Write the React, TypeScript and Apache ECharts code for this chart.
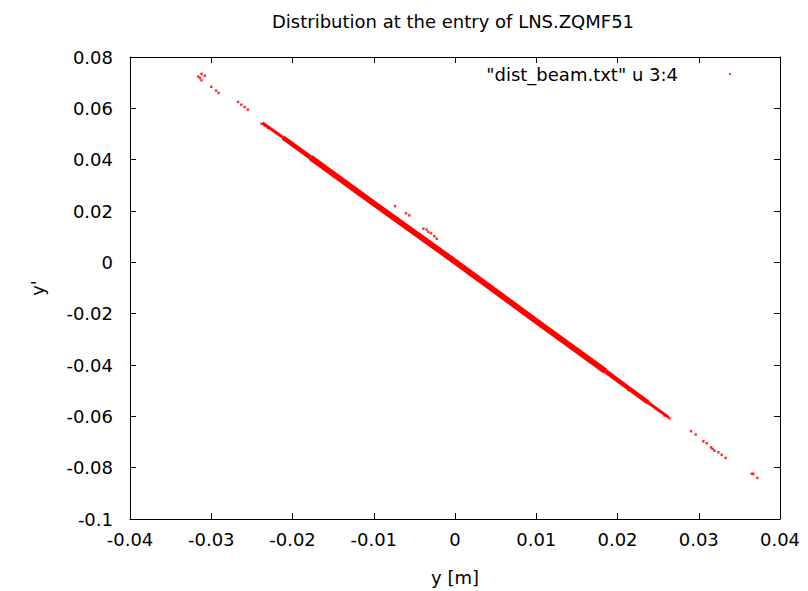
import React, { useEffect, useRef } from "react";
import * as echarts from "echarts";

const titleText = "Distribution at the entry of LNS.ZQMF51";
const seriesName = '"dist_beam.txt" u 3:4';
const xAxisName = "y [m]";
const yAxisName = "y'";

const xTicks = [-0.04, -0.03, -0.02, -0.01, 0, 0.01, 0.02, 0.03, 0.04];
const yTicks = [-0.1, -0.08, -0.06, -0.04, -0.02, 0, 0.02, 0.04, 0.06, 0.08];

// dense beam core, read along the centre of the band
const bandTipUpper = [[-0.0237, 0.0543], [-0.0212, 0.0487]];
const bandShoulderUpper = [[-0.0212, 0.0487], [-0.0178, 0.0409]];
const bandCore = [[-0.0178, 0.0409], [-0.01, 0.023], [0, 0.0003], [0.01, -0.0229], [0.0185, -0.0424]];
const bandShoulderLower = [[0.0185, -0.0424], [0.0238, -0.0547]];
const bandTipLower = [[0.0238, -0.0547], [0.0263, -0.0604]];

// isolated particles
const strayPoints = [
  [-0.0312, 0.0734], [-0.0308, 0.0727], [-0.0314, 0.0718], [-0.0312, 0.0709], [-0.0316, 0.0724],
  [-0.03, 0.0684], [-0.0294, 0.0669], [-0.0291, 0.066],
  [-0.0267, 0.0625], [-0.0263, 0.0614], [-0.0259, 0.0605], [-0.0255, 0.0595],
  [-0.0238, 0.054], [-0.0234, 0.0533], [-0.023, 0.0524],
  [-0.00738, 0.0219], [-0.00603, 0.0191], [-0.00562, 0.0183],
  [-0.0039, 0.0131], [-0.00349, 0.0128], [-0.00328, 0.0118], [-0.00295, 0.0113], [-0.00255, 0.0102], [-0.00225, 0.0092],
  [0.02133, -0.0497], [0.0252, -0.058], [0.0258, -0.0597], [0.0264, -0.0608],
  [0.02905, -0.0658], [0.02962, -0.0671], [0.03056, -0.0697], [0.03098, -0.0705],
  [0.03151, -0.0721], [0.03171, -0.0727], [0.03192, -0.0734], [0.03241, -0.074],
  [0.03282, -0.075], [0.03331, -0.0762],
  [0.03651, -0.0824], [0.03672, -0.0824], [0.03721, -0.084],
];

const RED = "#ff0000";
const FONT = "DejaVu Sans";
const FS = 18;
const fmt = (v: number) => String(Number(v.toFixed(4)));

export default function App() {
  const ref = useRef<HTMLDivElement>(null);
  useEffect(() => {
    if (!ref.current) return;
    const chart = echarts.init(ref.current, null, { renderer: "svg" });
    const bandSeries = (data: number[][], width: number) => ({
      type: "line",
      name: seriesName,
      data,
      showSymbol: false,
      symbol: "none",
      lineStyle: { color: RED, width },
      itemStyle: { color: RED },
      silent: true,
    });
    const xMin = xTicks[0], xMax = xTicks[xTicks.length - 1];
    const yMin = yTicks[0], yMax = yTicks[yTicks.length - 1];
    const xInt = Number((xTicks[1] - xTicks[0]).toFixed(4));
    const yInt = Number((yTicks[1] - yTicks[0]).toFixed(4));
    const axisCommon = {
      axisLine: { show: true, onZero: false, lineStyle: { color: "#000", width: 1 } },
      axisTick: { show: true, inside: true, length: 6, lineStyle: { color: "#000" } },
      splitLine: { show: false },
    };
    chart.setOption({
      animation: false,
      backgroundColor: "#fff",
      title: {
        text: titleText,
        left: 448,
        textAlign: "center",
        top: 7,
        textStyle: { fontFamily: FONT, fontSize: FS, fontWeight: "normal", color: "#000" },
      },
      legend: {
        data: [{ name: seriesName, icon: "rect" }],
        right: 72,
        top: 60,
        align: "right",
        itemWidth: 2,
        itemHeight: 2,
        formatter: "{a|" + seriesName + "}",
        textStyle: {
          fontFamily: FONT,
          fontSize: FS,
          color: "#000",
          rich: { a: { fontFamily: FONT, fontSize: FS, color: "#000", padding: [0, 46, 0, 0] } },
        },
        itemStyle: { color: RED },
        selectedMode: false,
      },
      grid: { left: 130, right: 28, top: 57, bottom: 71, containLabel: false },
      xAxis: [
        {
          type: "value",
          min: xMin,
          max: xMax,
          interval: xInt,
          name: xAxisName,
          nameLocation: "middle",
          nameGap: 49,
          nameTextStyle: { fontFamily: FONT, fontSize: FS, color: "#000" },
          axisLabel: { fontFamily: FONT, fontSize: FS, color: "#000", margin: 11, formatter: fmt },
          ...axisCommon,
        },
        {
          type: "value",
          position: "top",
          min: xMin,
          max: xMax,
          interval: xInt,
          axisLabel: { show: false },
          ...axisCommon,
        },
      ],
      yAxis: [
        {
          type: "value",
          min: yMin,
          max: yMax,
          interval: yInt,
          name: yAxisName,
          nameLocation: "middle",
          nameGap: 84,
          nameTextStyle: { fontFamily: FONT, fontSize: FS, color: "#000" },
          axisLabel: { fontFamily: FONT, fontSize: FS, color: "#000", margin: 17, formatter: fmt },
          ...axisCommon,
        },
        {
          type: "value",
          position: "right",
          min: yMin,
          max: yMax,
          interval: yInt,
          axisLabel: { show: false },
          ...axisCommon,
        },
      ],
      series: [
        {
          type: "scatter",
          name: seriesName,
          data: strayPoints,
          symbol: "rect",
          symbolSize: 2.5,
          itemStyle: { color: RED },
          silent: true,
        },
        bandSeries(bandTipUpper, 3),
        bandSeries(bandShoulderUpper, 4.5),
        bandSeries(bandCore, 5.8),
        bandSeries(bandShoulderLower, 4.5),
        bandSeries(bandTipLower, 3),
      ],
    });
    return () => chart.dispose();
  }, []);
  return (
    <div
      ref={ref}
      style={{ position: "fixed", left: 0, top: 0, width: 808, height: 591, background: "#fff" }}
    />
  );
}
